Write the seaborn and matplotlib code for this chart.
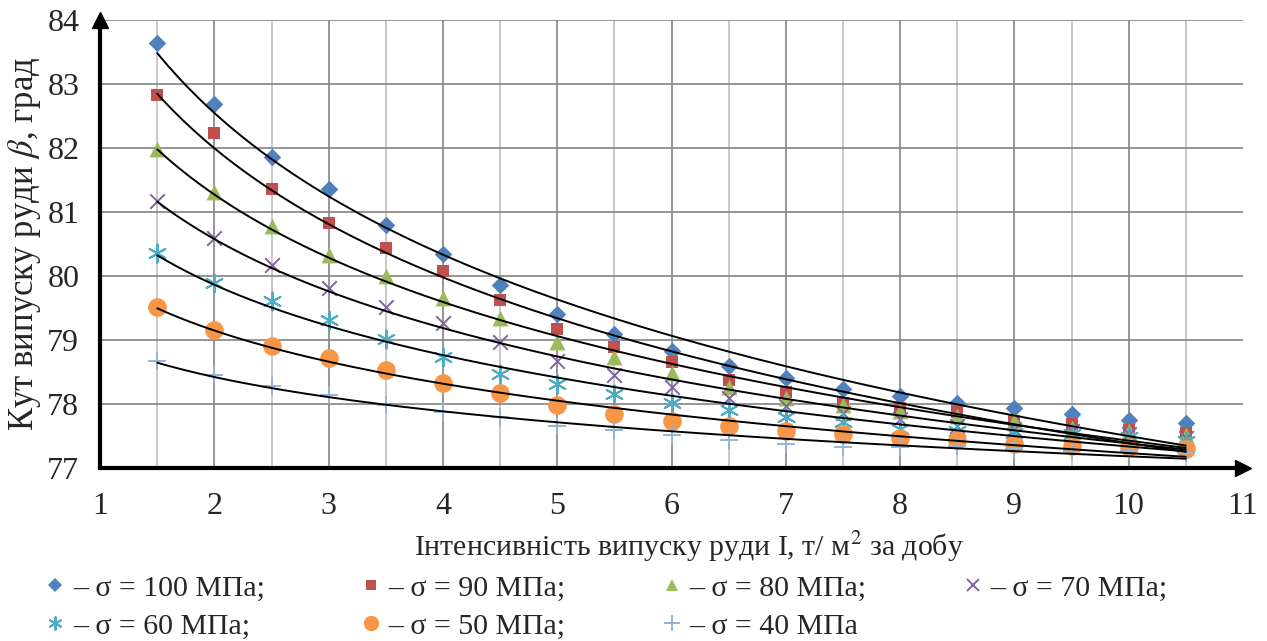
import numpy as np
import pandas as pd
import matplotlib
matplotlib.use("Agg")
import matplotlib.pyplot as plt
import seaborn as sns
from matplotlib.lines import Line2D

# intensity of ore release, t/m2 per day
intensity = [1.5, 2, 2.5, 3, 3.5, 4, 4.5, 5, 5.5, 6, 6.5, 7, 7.5, 8, 8.5, 9, 9.5, 10, 10.5]

# release angle, degrees, one list per stress level
s100 = [83.64, 82.68, 81.85, 81.35, 80.79, 80.35, 79.86, 79.41, 79.10, 78.83, 78.59, 78.40, 78.24, 78.12, 78.02, 77.93, 77.84, 77.75, 77.70]
s90 = [82.83, 82.23, 81.35, 80.83, 80.44, 80.07, 79.63, 79.17, 78.89, 78.66, 78.38, 78.19, 78.02, 77.94, 77.88, 77.74, 77.68, 77.60, 77.55]
s80 = [81.98, 81.31, 80.78, 80.33, 80.00, 79.66, 79.35, 78.97, 78.73, 78.48, 78.27, 78.10, 77.99, 77.89, 77.81, 77.74, 77.63, 77.58, 77.51]
s70 = [81.17, 80.59, 80.17, 79.81, 79.52, 79.26, 78.96, 78.67, 78.45, 78.27, 78.10, 77.96, 77.86, 77.76, 77.66, 77.61, 77.58, 77.53, 77.46]
s60 = [80.36, 79.89, 79.61, 79.31, 79.01, 78.74, 78.47, 78.31, 78.15, 78.02, 77.91, 77.79, 77.71, 77.61, 77.58, 77.55, 77.53, 77.49, 77.42]
s50 = [79.52, 79.16, 78.90, 78.72, 78.53, 78.33, 78.17, 77.98, 77.84, 77.74, 77.65, 77.58, 77.53, 77.46, 77.44, 77.38, 77.35, 77.33, 77.29]
s40 = [78.67, 78.45, 78.28, 78.14, 77.99, 77.88, 77.79, 77.66, 77.59, 77.51, 77.44, 77.38, 77.32, 77.33, 77.34, 77.29, 77.27, 77.27, 77.24]

labels = ["– σ = 100 МПа;", "– σ = 90 МПа;", "– σ = 80 МПа;", "– σ = 70 МПа;",
          "– σ = 60 МПа;", "– σ = 50 МПа;", "– σ = 40 МПа"]
series = [s100, s90, s80, s70, s60, s50, s40]
colors = ["#4F81BD", "#C0504D", "#9BBB59", "#8064A2", "#4BACC6", "#F79646", "#95B3D7"]
markers = ["D", "s", "^", "x", (6, 2, 0), "o", "+"]
msizes = [80, 85, 130, 110, 170, 180, 180]
lmsizes = [7, 7, 9, 9, 10, 11, 11]
thin = ("x", "+", (6, 2, 0))

sns.set_style("white")
plt.rcParams["font.family"] = ["Liberation Serif", "DejaVu Serif"]
plt.rcParams["mathtext.fontset"] = "stix"

fig, ax = plt.subplots(figsize=(12.67, 6.41), dpi=100)
fig.subplots_adjust(left=0.079, right=0.981, bottom=0.27, top=0.969)

x = np.array(intensity)
xx = np.linspace(1.5, 10.5, 200)
for vals, c, m, s in zip(series, colors, markers, msizes):
    y = np.array(vals)
    # power trendline, fitted like a spreadsheet would
    b, a = np.polyfit(np.log(x), np.log(y), 1)
    sns.lineplot(x=xx, y=np.exp(a) * xx ** b, color="black", linewidth=1.4, ax=ax, zorder=3)
    lw = 1.4 if m in thin else 0
    sns.scatterplot(x=x, y=y, color=c, marker=m, s=s, linewidth=lw,
                    edgecolor=c if lw == 0 else None, ax=ax, zorder=2)

ax.set_xlim(1, 11)
ax.set_ylim(77, 84)
ax.set_xticks(range(1, 12))
ax.set_yticks(range(77, 85))
ax.set_xticks(np.arange(1.5, 11, 1), minor=True)
ax.grid(which="major", color="#8c8c8c", linewidth=1.3)
ax.grid(which="minor", axis="x", color="#c4c4c4", linewidth=1.3)
ax.xaxis.get_gridlines()[-1].set_visible(False)
ax.tick_params(which="minor", length=0)
ax.tick_params(axis="x", which="major", direction="out", length=8, width=2.5, labelsize=23, pad=9)
ax.tick_params(axis="y", which="major", direction="inout", length=14, width=2.5, labelsize=23, pad=8)

for side in ("top", "right"):
    ax.spines[side].set_visible(False)
for side in ("left", "bottom"):
    ax.spines[side].set_linewidth(3)
    ax.spines[side].set_color("black")
ax.plot(1, 0, ">", color="black", markersize=12, transform=ax.transAxes, clip_on=False)
ax.plot(0, 1, "^", color="black", markersize=12, transform=ax.transAxes, clip_on=False)

ax.set_xlabel("Інтенсивність випуску руди І, т/ м$^2$ за добу", fontsize=21.5)
ax.xaxis.set_label_coords(0.515, -0.138)
ax.set_ylabel("Кут випуску руди $\\beta$, град", fontsize=25, labelpad=3)

handles = [Line2D([], [], linestyle="none", marker=m, color=c, markersize=ms,
                  markeredgewidth=1.4 if m in thin else 0)
           for m, c, ms in zip(markers, colors, lmsizes)]
order = [0, 4, 1, 5, 2, 6, 3]
fig.legend([handles[i] for i in order], [labels[i] for i in order],
           loc="upper left", bbox_to_anchor=(0.028, 0.122), ncol=4,
           frameon=False, fontsize=21.5, handlelength=0.5, handletextpad=0.35,
           columnspacing=3.3, labelspacing=0.38, borderaxespad=0)

fig.savefig("out.png", dpi=100)
